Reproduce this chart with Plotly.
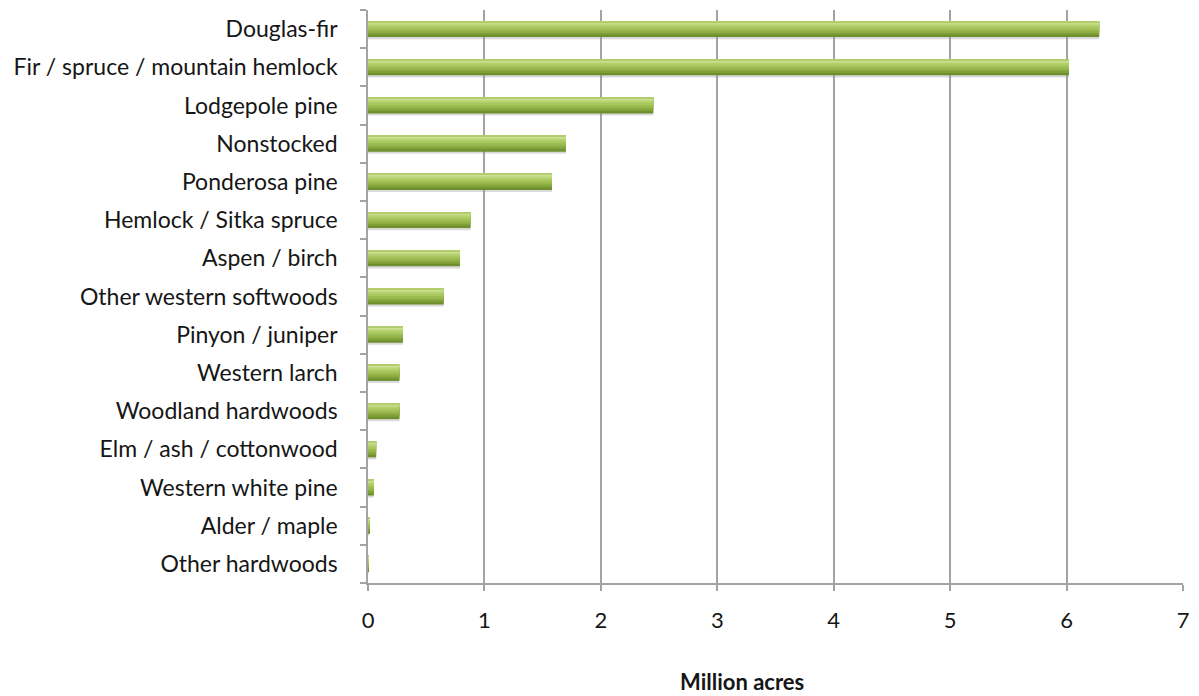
import plotly.graph_objects as go

# Forest-type groups and their area (million acres)
forest_types = [
    "Douglas-fir",
    "Fir / spruce / mountain hemlock",
    "Lodgepole pine",
    "Nonstocked",
    "Ponderosa pine",
    "Hemlock / Sitka spruce",
    "Aspen / birch",
    "Other western softwoods",
    "Pinyon / juniper",
    "Western larch",
    "Woodland hardwoods",
    "Elm / ash / cottonwood",
    "Western white pine",
    "Alder / maple",
    "Other hardwoods",
]
area_million_acres = [6.28, 6.02, 2.45, 1.70, 1.58, 0.88, 0.79, 0.65,
                      0.30, 0.27, 0.27, 0.07, 0.05, 0.01, 0.005]
x_ticks = [0, 1, 2, 3, 4, 5, 6, 7]

FONT = "Lato"
TEXT = "#161616"
GRID = "#a3a3a3"

fig = go.Figure()

# Soft drop shadow under each bar
fig.add_trace(go.Bar(
    x=area_million_acres, y=forest_types, orientation="h",
    width=0.44, offset=-0.265,
    marker=dict(color="rgba(150,150,150,0.35)", line=dict(width=0)),
    hoverinfo="skip", showlegend=False,
))

# Bar body: each layer starts a little higher and runs to the bar top,
# so the stacked layers blend into a shaded, rounded look without seams
BAR_TOP = 0.21
layers = [
    # (lower edge relative to bar centre, colour) drawn bottom -> top
    (-0.21, "#6f8f2e"),
    (-0.15, "#7f9f38"),
    (-0.10, "#8eae44"),
    (-0.05, "#9bbb50"),
    (0.01, "#a8c75e"),
    (0.07, "#b6d170"),
    (0.12, "#c4db86"),
    (0.155, "#cfe296"),
    (0.185, "#b3cd6e"),
]
for low, col in layers:
    fig.add_trace(go.Bar(
        x=area_million_acres, y=forest_types, orientation="h",
        width=BAR_TOP - low, offset=low,
        marker=dict(color=col, line=dict(width=0)),
        hoverinfo="skip", showlegend=False,
    ))

fig.update_layout(
    width=1199, height=696,
    margin=dict(l=368, r=12, t=10, b=113),
    barmode="overlay",
    plot_bgcolor="white", paper_bgcolor="white",
    font=dict(family=FONT, color=TEXT, size=22),
    xaxis=dict(
        range=[0, 7], tickvals=x_ticks,
        showgrid=True, gridcolor=GRID, gridwidth=1.5,
        showline=True, linecolor=GRID, linewidth=1.5,
        ticks="outside", ticklen=6, tickcolor=GRID, tickwidth=1.5,
        ticklabelstandoff=11,
        tickfont=dict(family=FONT, size=22, color=TEXT),
        zeroline=False,
    ),
    yaxis=dict(
        categoryorder="array", categoryarray=forest_types[::-1],
        range=[-0.5, len(forest_types) - 0.5],
        showgrid=False,
        showline=True, linecolor=GRID, linewidth=1.5,
        ticks="outside", ticklen=6, tickcolor=GRID, tickwidth=1.5,
        tickson="boundaries",
        ticklabelstandoff=24,
        tickfont=dict(family=FONT, size=23, color=TEXT),
    ),
    annotations=[dict(
        text="<b>Million acres</b>", xref="paper", yref="paper",
        x=0.459, y=-0.172, xanchor="center", yanchor="middle",
        showarrow=False, font=dict(family=FONT, size=22, color=TEXT),
    )],
)

fig.write_html("out.html")
